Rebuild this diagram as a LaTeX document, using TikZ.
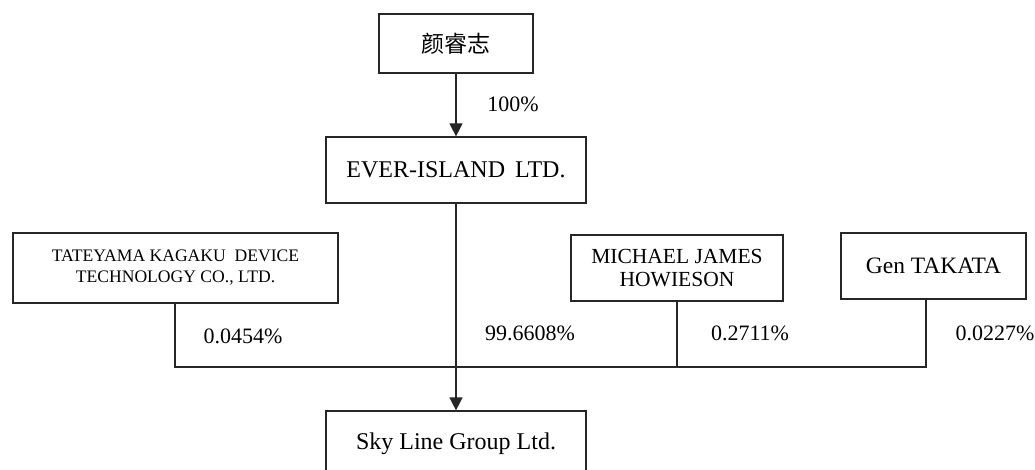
\documentclass[tikz,border=0pt]{standalone}
\usepackage{fontspec}
\setmainfont{Liberation Serif}
\newfontfamily\cjk{Noto Sans CJK SC}
\usetikzlibrary{arrows.meta}
\begin{document}
\begin{tikzpicture}[x=1pt,y=-1pt,
  box/.style={draw=black!85,line width=1.2pt,inner sep=0pt,align=center},
  conn/.style={draw=black!85,line width=1.2pt},
  arr/.style={conn,-{Triangle[width=13pt,length=13pt]}},
  pct/.style={inner sep=0pt,font=\fontsize{22}{26}\selectfont}]
\useasboundingbox (0,0) rectangle (1035,470);
\node[box,minimum width=154pt,minimum height=59pt,font=\cjk\fontsize{23}{27}\selectfont] (top) at (456,43.5) {颜睿志};
\node[box,minimum width=260pt,minimum height=66pt,font=\fontsize{24}{28}\selectfont] (ever) at (456,170) {EVER-ISLAND\, LTD.};
\node[box,minimum width=325pt,minimum height=70pt,font=\fontsize{17.6}{21}\selectfont] (tate) at (175.5,268) {TATEYAMA KAGAKU\ \ DEVICE\\TECHNOLOGY CO., LTD.};
\node[box,minimum width=212pt,minimum height=66pt,font=\fontsize{21.5}{23.5}\selectfont] (mich) at (677,268) {MICHAEL JAMES\\HOWIESON};
\node[box,minimum width=185pt,minimum height=66pt,font=\fontsize{23.5}{27}\selectfont] (gen) at (933.5,266) {Gen TAKATA};
\node[box,minimum width=260pt,minimum height=65pt,font=\fontsize{24}{28}\selectfont] (sky) at (456,443.5) {Sky Line Group Ltd.};
\coordinate (ts) at (175,303);
\coordinate (gs) at (926,299);
\coordinate (jl) at (175,367);
\coordinate (jr) at (926,367);
\draw[arr] (top) -- (ever);
\draw[arr] (ever) -- (sky);
\draw[conn] (ts) -- (jl) -- (jr) -- (gs);
\draw[conn] (mich.south) -- (mich.south |- jl);
\node[pct] (p1) at (513,104) {100\%};
\node[pct] (p2) at (243,336) {0.0454\%};
\node[pct] (p3) at (530,333) {99.6608\%};
\node[pct] (p4) at (750,333) {0.2711\%};
\node[pct] (p5) at (995,333) {0.0227\%};
\end{tikzpicture}
\end{document}
